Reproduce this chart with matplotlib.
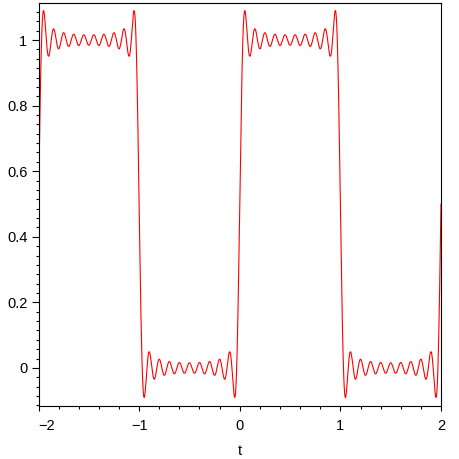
import numpy as np
import matplotlib
matplotlib.use("Agg")
import matplotlib.pyplot as plt
from matplotlib.ticker import FixedLocator, MultipleLocator

# partial Fourier sum of a square wave (period 2): offset + sum a_k sin(k pi t)
offset = 0.5
harmonics = [1, 3, 5, 7, 9, 11, 13, 15, 17, 19]
amplitudes = [0.63662, 0.21221, 0.12732, 0.09095, 0.07074,
              0.05787, 0.04897, 0.04244, 0.03745, 0.03351]

t_range = (-2, 2)
x_ticks = [-2, -1, 0, 1, 2]
x_labels = ["\u22122", "\u22121", "0", "1", "2"]
y_ticks = [0, 0.2, 0.4, 0.6, 0.8, 1]
y_labels = ["0", "0.2", "0.4", "0.6", "0.8", "1"]

t = np.linspace(t_range[0], t_range[1], 4000)
y = offset + sum(a * np.sin(k * np.pi * t) for k, a in zip(harmonics, amplitudes))

plt.rcParams['font.family'] = ['Liberation Sans', 'DejaVu Sans']

fig = plt.figure(figsize=(4.59, 4.59), dpi=100)
ax = fig.add_axes([38.5 / 459, 1 - 406 / 459, (441 - 38.5) / 459, (406 - 3) / 459])

ax.plot(t, y, color='red', linewidth=0.8)

ax.set_xlim(*t_range)
ax.set_ylim(-0.116, 1.113)

ax.set_xticks(x_ticks)
ax.set_xticklabels(x_labels)
ax.set_yticks(y_ticks)
ax.set_yticklabels(y_labels)
ax.xaxis.set_minor_locator(MultipleLocator(0.2))
ax.yaxis.set_minor_locator(FixedLocator(np.arange(-5, 40) * 0.2 / 7))

ax.tick_params(axis='x', which='major', length=3.5, width=0.8, labelsize=10.5, pad=6)
ax.tick_params(axis='x', which='minor', length=2, width=0.8)
ax.tick_params(axis='y', which='major', length=5, width=0.8, labelsize=10.5, pad=3)
ax.tick_params(axis='y', which='minor', length=2.5, width=0.8)
ax.get_xticklabels()[0].set_horizontalalignment('left')

for s in ax.spines.values():
    s.set_linewidth(0.8)

fig.text(240 / 459, 1 - 451 / 459, 't', fontsize=10.5, ha='center', va='center')

fig.savefig('out.png', dpi=100)
